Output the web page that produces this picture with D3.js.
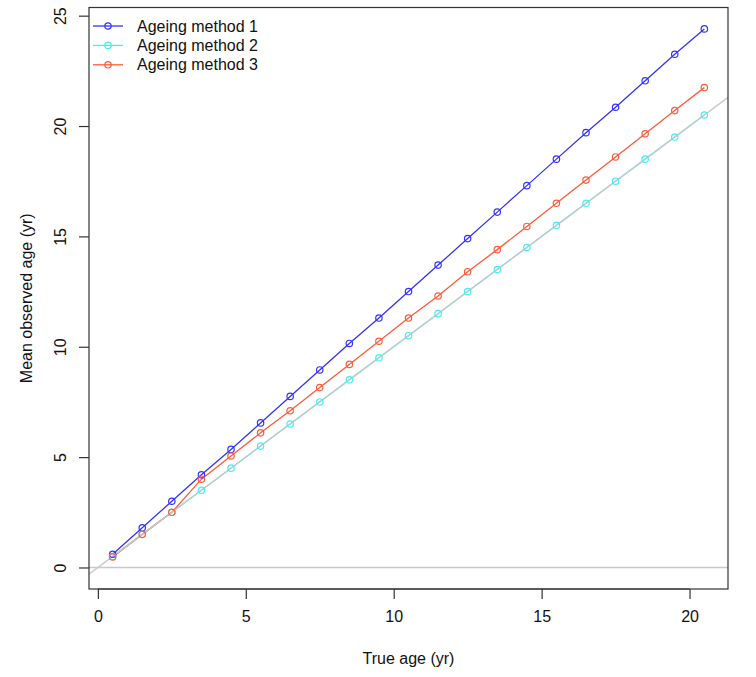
<!DOCTYPE html>
<html>
<head>
<meta charset="utf-8">
<script src="https://cdn.jsdelivr.net/npm/d3@7"></script>
<style>
  html, body { margin: 0; padding: 0; background: #fff; }
  svg { display: block; font-family: "Liberation Sans", Arial, sans-serif; }
</style>
</head>
<body>
<svg id="chart" width="756" height="677"></svg>
<script>
// True ages (yr) at which each method is evaluated
const trueAge = [0.5, 1.5, 2.5, 3.5, 4.5, 5.5, 6.5, 7.5, 8.5, 9.5, 10.5,
                 11.5, 12.5, 13.5, 14.5, 15.5, 16.5, 17.5, 18.5, 19.5, 20.5];

// Mean observed age (yr) for each ageing method
const method1 = [0.6, 1.8, 3.0, 4.2, 5.35, 6.55, 7.75, 8.95, 10.15, 11.3, 12.5,
                 13.7, 14.9, 16.1, 17.3, 18.5, 19.7, 20.85, 22.05, 23.25, 24.4];
const method2 = [0.5, 1.5, 2.5, 3.5, 4.5, 5.5, 6.5, 7.5, 8.5, 9.5, 10.5,
                 11.5, 12.5, 13.5, 14.5, 15.5, 16.5, 17.5, 18.5, 19.5, 20.5];
const method3 = [0.48, 1.5, 2.5, 4.0, 5.05, 6.1, 7.1, 8.15, 9.2, 10.25, 11.3,
                 12.3, 13.4, 14.4, 15.45, 16.5, 17.55, 18.6, 19.65, 20.7, 21.74];

const seriesNames = ["Ageing method 1", "Ageing method 2", "Ageing method 3"];
const seriesColors = ["#3333ff", "#3ff0f8", "#ff5a3a"];
const seriesValues = [method1, method2, method3];

const xTicks = [0, 5, 10, 15, 20];
const yTicks = [0, 5, 10, 15, 20, 25];

const svg = d3.select("#chart");
const plot = { left: 89, right: 728, top: 7.5, bottom: 589 };

const x = d3.scaleLinear().domain([-0.3, 21.3]).range([plot.left, plot.right]);
const y = d3.scaleLinear().domain([-0.975, 25.37]).range([plot.bottom, plot.top]);

svg.append("defs").append("clipPath").attr("id", "plotClip")
  .append("rect")
  .attr("x", plot.left).attr("y", plot.top)
  .attr("width", plot.right - plot.left).attr("height", plot.bottom - plot.top);

const series = seriesNames.map((name, i) => ({
  name,
  color: seriesColors[i],
  points: trueAge.map((a, j) => ({ a, v: seriesValues[i][j] }))
}));

const line = d3.line().x(d => x(d.a)).y(d => y(d.v));

// Series lines
const inner = svg.append("g").attr("clip-path", "url(#plotClip)");
inner.selectAll("path.series")
  .data(series)
  .join("path")
  .attr("class", "series")
  .attr("d", d => line(d.points))
  .attr("fill", "none")
  .attr("stroke", d => d.color)
  .attr("stroke-width", 1.3);

// Reference lines: y = 0 and the 1:1 line
const ref = inner.append("g").attr("stroke", "#c8c8c8").attr("stroke-width", 1.4);
ref.append("line")
  .attr("x1", plot.left).attr("x2", plot.right)
  .attr("y1", y(0)).attr("y2", y(0));
ref.append("line")
  .attr("x1", x(-1)).attr("y1", y(-1))
  .attr("x2", x(22)).attr("y2", y(22));

// Open-circle markers
series.forEach(s => {
  inner.append("g").selectAll("circle")
    .data(s.points)
    .join("circle")
    .attr("cx", d => x(d.a))
    .attr("cy", d => y(d.v))
    .attr("r", 3.2)
    .attr("fill", "none")
    .attr("stroke", s.color)
    .attr("stroke-width", 1.2);
});

// Plot frame
svg.append("rect")
  .attr("x", plot.left).attr("y", plot.top)
  .attr("width", plot.right - plot.left).attr("height", plot.bottom - plot.top)
  .attr("fill", "none").attr("stroke", "#333").attr("stroke-width", 1.2);

// Axes
const xAxis = svg.append("g")
  .attr("transform", `translate(0,${plot.bottom})`)
  .call(d3.axisBottom(x).tickValues(xTicks).tickSize(10).tickPadding(12).tickFormat(d3.format("d")));
const yAxis = svg.append("g")
  .attr("transform", `translate(${plot.left},0)`)
  .call(d3.axisLeft(y).tickValues(yTicks).tickSize(10).tickPadding(0).tickFormat(d3.format("d")));

[xAxis, yAxis].forEach(g => {
  g.select(".domain").remove();
  g.selectAll(".tick line").attr("stroke", "#333").attr("stroke-width", 1.2);
  g.selectAll(".tick text").attr("fill", "#111").style("font-size", "16px");
});
xAxis.append("line")
  .attr("x1", x(0)).attr("x2", x(20)).attr("y1", 0).attr("y2", 0)
  .attr("stroke", "#333").attr("stroke-width", 1.2);

// Y tick labels are drawn parallel to the axis
yAxis.selectAll(".tick text")
  .attr("x", 0).attr("dy", null)
  .attr("text-anchor", "middle")
  .attr("dominant-baseline", "central")
  .attr("transform", "translate(-29,0) rotate(-90)");

// Axis titles
svg.append("text")
  .attr("x", (plot.left + plot.right) / 2).attr("y", 658)
  .attr("text-anchor", "middle").attr("dominant-baseline", "central")
  .attr("fill", "#111").style("font-size", "16px")
  .text("True age (yr)");
svg.append("text")
  .attr("transform", `translate(26,${(plot.top + plot.bottom) / 2}) rotate(-90)`)
  .attr("text-anchor", "middle").attr("dominant-baseline", "central")
  .attr("fill", "#111").style("font-size", "16px")
  .text("Mean observed age (yr)");

// Legend
const legend = svg.append("g");
const rows = legend.selectAll("g")
  .data(series)
  .join("g")
  .attr("transform", (d, i) => `translate(93,${26 + i * 19.4})`);
rows.append("line")
  .attr("x1", 0).attr("x2", 30).attr("y1", 0).attr("y2", 0)
  .attr("stroke", d => d.color).attr("stroke-width", 1.3);
rows.append("circle")
  .attr("cx", 15).attr("cy", 0).attr("r", 3.2)
  .attr("fill", "none").attr("stroke", d => d.color).attr("stroke-width", 1.2);
rows.append("text")
  .attr("x", 44).attr("y", 0)
  .attr("dominant-baseline", "central")
  .attr("fill", "#111").style("font-size", "16px")
  .text(d => d.name);
</script>
</body>
</html>
